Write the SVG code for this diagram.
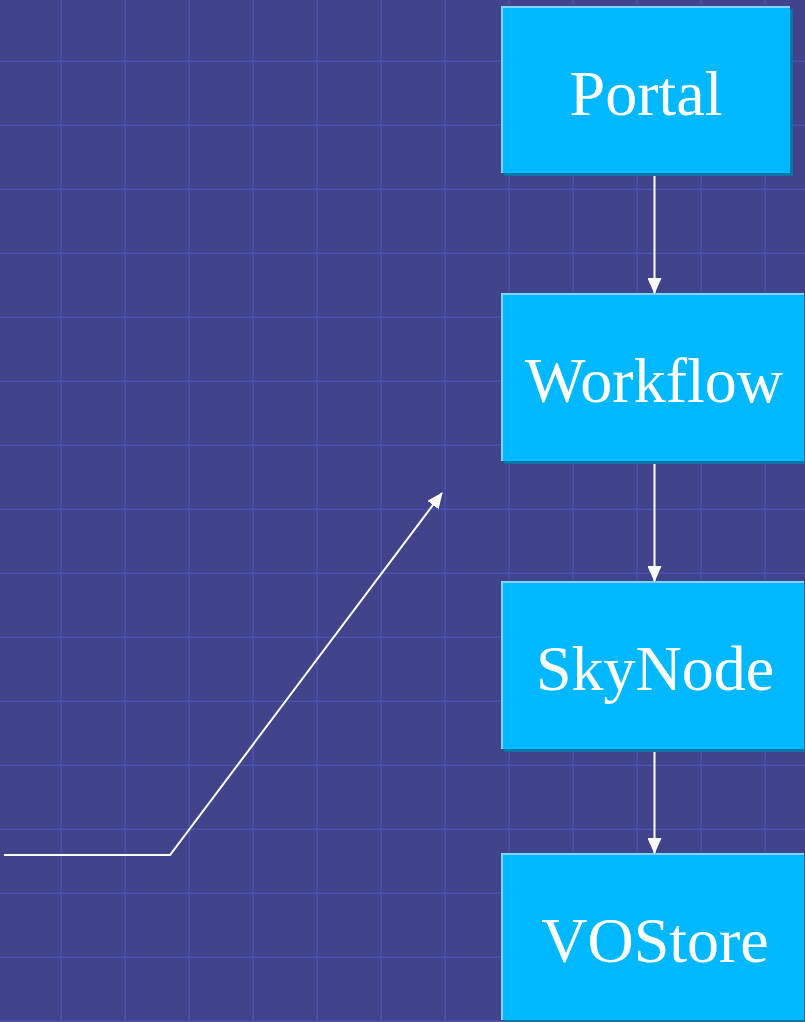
<svg xmlns="http://www.w3.org/2000/svg" width="805" height="1022" viewBox="0 0 805 1022">
<defs>
<pattern id="grid" x="0" y="0" width="64" height="64" patternUnits="userSpaceOnUse" patternTransform="translate(-2,-2)">
<path d="M64 0V64M0 64H64" stroke="#4b51b3" stroke-width="3" fill="none"/>
</pattern>
<marker id="ah" viewBox="0 0 16 14" refX="15" refY="7" markerWidth="16" markerHeight="14" markerUnits="userSpaceOnUse" orient="auto">
<path d="M0 0L16 7L0 14Z" fill="#ffffff"/>
</marker>
<style>
.shadow{fill:#0077a6}
.box{fill:#00b8ff}
.hl{fill:none;stroke:#80d4ff;stroke-width:2}
.lbl{font-family:"Liberation Serif","Times New Roman",serif;font-size:64px;fill:#ffffff;text-anchor:middle}
.conn{stroke:#ffffff;stroke-width:2;fill:none}
</style>
</defs>
<rect width="805" height="1022" fill="#41448a"/>
<rect width="805" height="1022" fill="url(#grid)"/>
<g id="portal">
<rect class="shadow" x="504" y="9" width="289" height="167"/>
<rect class="box" x="501" y="6" width="289" height="167"/>
<path class="hl" d="M502 173V7H790"/>
<text class="lbl" x="646" y="115">Portal</text>
</g>
<g id="workflow">
<rect class="shadow" x="504" y="296" width="304" height="168"/>
<rect class="box" x="501" y="293" width="303" height="168"/>
<path class="hl" d="M502 461V294H804"/>
<text class="lbl" x="654" y="402">Workflow</text>
</g>
<g id="skynode">
<rect class="shadow" x="504" y="584" width="304" height="168"/>
<rect class="box" x="501" y="581" width="303" height="168"/>
<path class="hl" d="M502 749V582H804"/>
<text class="lbl" x="655" y="690">SkyNode</text>
</g>
<g id="vostore">
<rect class="shadow" x="504" y="856" width="304" height="168"/>
<rect class="box" x="501" y="853" width="303" height="167"/>
<path class="hl" d="M502 1020V854H804"/>
<text class="lbl" x="655" y="962">VOStore</text>
</g>
<g id="connectors">
<path class="conn" d="M654.5 176V293" marker-end="url(#ah)"/>
<path class="conn" d="M654.5 464V581" marker-end="url(#ah)"/>
<path class="conn" d="M654.5 752V853" marker-end="url(#ah)"/>
<path class="conn" d="M4 855H170L442 493" marker-end="url(#ah)"/>
</g>
</svg>
